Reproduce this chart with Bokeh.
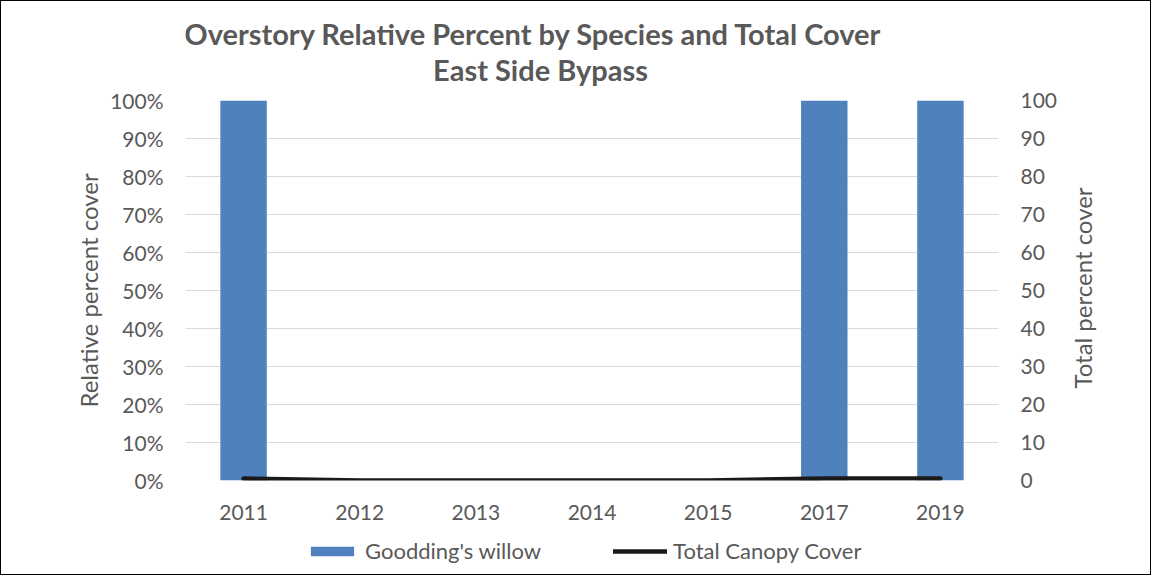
import math
from bokeh.plotting import figure
from bokeh.layouts import column, row
from bokeh.models import (Range1d, LinearAxis, NumeralTickFormatter, Legend, LegendItem,
                          Label, FixedTicker)
from bokeh.embed import file_html
from bokeh.resources import INLINE

years = ["2011", "2012", "2013", "2014", "2015", "2017", "2019"]
goodding_willow = [1.0, 0.0, 0.0, 0.0, 0.0, 1.0, 1.0]
total_canopy_cover = [0.5, 0.0, 0.0, 0.0, 0.0, 0.5, 0.5]
left_ticks = [0, 0.1, 0.2, 0.3, 0.4, 0.5, 0.6, 0.7, 0.8, 0.9, 1.0]
right_ticks = [0, 10, 20, 30, 40, 50, 60, 70, 80, 90, 100]
title_lines = ["Overstory Relative Percent by Species and Total Cover", "East Side Bypass"]
right_axis_title = "Total percent cover"

FONT = "Lato"
GREY = "#595959"
BAR_COLOR = "#4f81bd"
LINE_COLOR = "#1a1a1a"
W = 1060
SIDE_W = 89
H = 573
ML, MR = 184, 63
FRAME_W = W - ML - MR
TITLE_H = 86


def bare(width, height, xr, yr, ml=0, mr=0):
    f = figure(x_range=xr, y_range=yr, width=width, height=height,
               output_backend="svg", toolbar_location=None,
               x_axis_location=None, y_axis_location=None,
               min_border_left=ml, min_border_right=mr, min_border_top=0,
               min_border_bottom=0)
    f.title.visible = False
    f.outline_line_color = None
    f.grid.visible = False
    return f


# title strip (pixel coordinates inside the strip)
tf = bare(W, TITLE_H, Range1d(0, FRAME_W), Range1d(0, TITLE_H), ML, MR)
tf.add_layout(Label(x=348, y=54, text=title_lines[0], text_align="center",
                    text_baseline="middle", text_font=FONT, text_font_size="29px",
                    text_font_style="bold", text_color=GREY))
tf.add_layout(Label(x=355, y=18, text=title_lines[1], text_align="center",
                    text_baseline="middle", text_font=FONT, text_font_size="29px",
                    text_font_style="bold", text_color=GREY))

# main chart
p = figure(x_range=years, y_range=Range1d(0, 1), width=W, height=444,
           output_backend="svg", toolbar_location=None,
           min_border_left=ML, min_border_right=MR, min_border_top=13,
           min_border_bottom=51)
p.title.visible = False
p.outline_line_color = None
p.extra_y_ranges = {"tot": Range1d(0, 100)}

p.vbar(x=years, top=goodding_willow, width=0.4, fill_color=BAR_COLOR, line_color=None)
p.line(x=years, y=total_canopy_cover, y_range_name="tot", line_width=4.5,
       line_color=LINE_COLOR, line_cap="round")

p.xgrid.visible = False
p.ygrid.grid_line_color = "#d9d9d9"
p.ygrid.ticker = FixedTicker(ticks=left_ticks)

ya = p.yaxis[0]
ya.ticker = FixedTicker(ticks=left_ticks)
ya.formatter = NumeralTickFormatter(format="0%")
ya.axis_label = "Relative percent cover"

ra = LinearAxis(y_range_name="tot", ticker=FixedTicker(ticks=right_ticks))
p.add_layout(ra, "right")

for ax in [ya, ra, p.xaxis[0]]:
    ax.axis_line_color = None
    ax.major_tick_line_color = None
    ax.minor_tick_line_color = None
    ax.major_label_text_font = FONT
    ax.major_label_text_font_size = "21px"
    ax.major_label_text_color = GREY
    ax.axis_label_text_font = FONT
    ax.axis_label_text_font_size = "24px"
    ax.axis_label_text_color = GREY
    ax.axis_label_text_font_style = "normal"
ya.major_label_standoff = 16
ra.major_label_standoff = 16
p.xaxis[0].major_label_standoff = 18
ya.axis_label_standoff = 4

# legend strip: same series, drawn outside the strip's visible range
lg = figure(x_range=years, y_range=Range1d(5, 6), width=W, height=43,
            output_backend="svg", toolbar_location=None,
            x_axis_location=None, y_axis_location=None,
            min_border_left=ML, min_border_right=MR, min_border_top=0,
            min_border_bottom=0)
lg.title.visible = False
lg.outline_line_color = None
lg.grid.visible = False
lb = lg.vbar(x=years, top=goodding_willow, width=0.4, fill_color=BAR_COLOR, line_color=None)
ll = lg.line(x=years, y=total_canopy_cover, line_width=4.5, line_color=LINE_COLOR,
             line_cap="round")

legend = Legend(items=[LegendItem(label="Goodding's willow", renderers=[lb]),
                       LegendItem(label="Total Canopy Cover", renderers=[ll])],
                orientation="horizontal", location=(120, 10),
                border_line_color=None, background_fill_alpha=0,
                label_text_font=FONT, label_text_font_size="22px",
                label_text_color=GREY, glyph_width=54, glyph_height=12,
                label_standoff=6, spacing=72, padding=4, margin=0)
lg.add_layout(legend, "center")

# right-hand axis title strip
side = bare(SIDE_W, H, Range1d(0, SIDE_W), Range1d(0, 1))
side.add_layout(Label(x=21, y=0.5, text=right_axis_title, angle=math.pi / 2,
                      text_align="center", text_baseline="middle", text_font=FONT,
                      text_font_size="24px", text_color=GREY))

layout = row(column(tf, p, lg, spacing=0), side, spacing=0,
             styles={"border": "1px solid #000000"})

open("out.html", "w").write(file_html(layout, INLINE))
